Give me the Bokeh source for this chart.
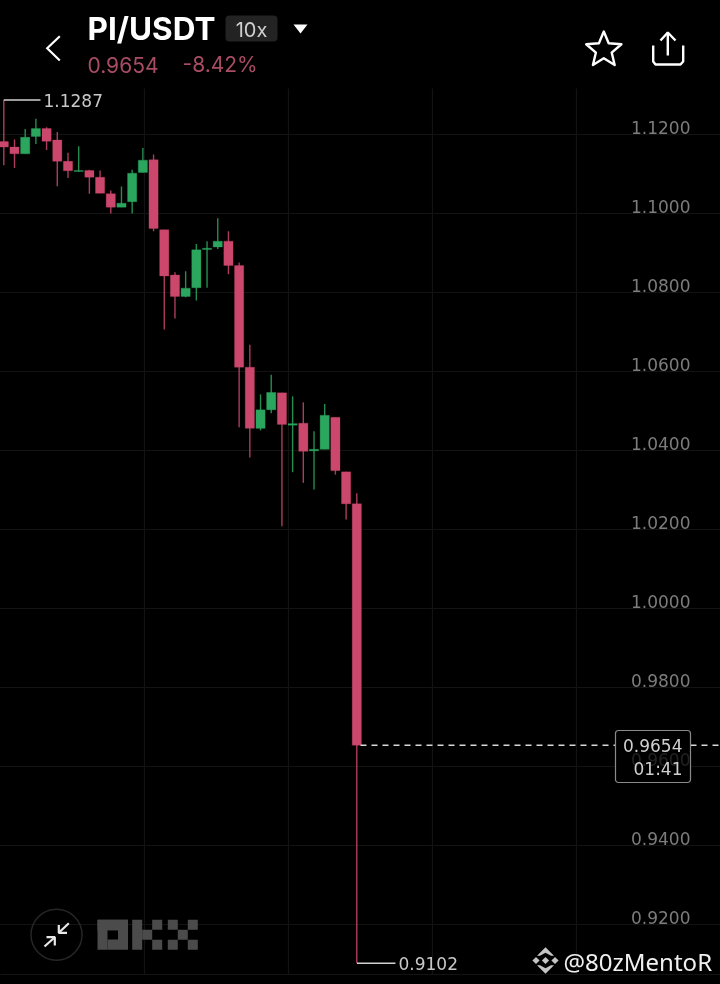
from bokeh.plotting import figure
from bokeh.models import Range1d, Grid, FixedTicker, ColumnDataSource
from bokeh.core.properties import value
from bokeh.embed import file_html
from bokeh.resources import INLINE
import math

# ---- data ----
opens  = [1.1182,1.1168,1.1151,1.1195,1.1215,1.1186,1.1132,1.1106,1.1109,1.1092,1.1050,1.1016,1.1030,1.1104,1.1136,1.0959,1.0844,1.0790,1.0812,1.0909,1.0915,1.0930,1.0868,1.0611,1.0456,1.0503,1.0546,1.0464,1.0469,1.0399,1.0403,1.0484,1.0346,1.0265]
closes = [1.1168,1.1151,1.1193,1.1215,1.1183,1.1132,1.1108,1.1109,1.1092,1.1051,1.1016,1.1026,1.1102,1.1135,1.0962,1.0842,1.0790,1.0811,1.0908,1.0912,1.0930,1.0868,1.0611,1.0456,1.0503,1.0547,1.0466,1.0468,1.0398,1.0403,1.0489,1.0349,1.0265,0.9654]
highs  = [1.1287,1.1187,1.1214,1.1240,1.1218,1.1206,1.1154,1.1170,1.1111,1.1109,1.1058,1.1068,1.1111,1.1166,1.1149,1.0959,1.0851,1.0854,1.0923,1.0930,1.0988,1.0955,1.0876,1.0668,1.0542,1.0592,1.0546,1.0537,1.0522,1.0449,1.0518,1.0484,1.0346,1.0292]
lows   = [1.1122,1.1115,1.1151,1.1176,1.1161,1.1069,1.1090,1.1106,1.1050,1.1051,1.1000,1.1016,1.1000,1.1104,1.0955,1.0706,1.0734,1.0788,1.0780,1.0812,1.0910,1.0846,1.0459,1.0382,1.0451,1.0494,1.0208,1.0345,1.0318,1.0301,1.0403,1.0339,1.0225,0.9102]
y_ticks = [1.12,1.10,1.08,1.06,1.04,1.02,1.00,0.98,0.94,0.92]
hidden_tick = 0.96
pair = "PI/USDT"; leverage = "10x"; last_price = 0.9654; change = "-8.42%"
high_price = 1.1287; low_price = 0.9102; countdown = "01:41"; handle = "@80zMentoR"

RED = "#cb476c"; GREEN = "#2ba65e"; FONT = value("Inter"); NUM = value("DejaVu Sans")
W, H = 722, 986
LAB = "17px"

p = figure(width=W, height=H, x_range=Range1d(-0.402, 67.0935), y_range=Range1d(0.90456, 1.15417),
           toolbar_location=None, output_backend="svg", min_border=0,
           background_fill_color="#000000", border_fill_color="#000000",
           outline_line_color=None, x_axis_type=None, y_axis_type=None,
           styles={"position": "fixed", "left": "-1px", "top": "-1px"})
p.grid.visible = False
p.extra_x_ranges["px"] = Range1d(-1, 721)
p.extra_y_ranges["px"] = Range1d(985, -1)

PX = dict(x_range_name="px", y_range_name="px")
PXX = dict(x_range_name="px")

# grid
p.add_layout(Grid(dimension=1, ticker=FixedTicker(ticks=y_ticks + [hidden_tick]), grid_line_color="#131313", grid_line_width=1.2))
p.segment([144,288,432,576],[88]*4,[144,288,432,576],[974]*4,line_color="#131313",line_width=1.2,**PX)
p.segment([0],[974],[720],[974],line_color="#131313",line_width=1.2,**PX)

# candles
idx = list(range(len(opens)))
cols = [GREEN if c >= o else RED for o, c in zip(opens, closes)]
src = ColumnDataSource(dict(x=idx, top=[max(a,b) for a,b in zip(opens,closes)],
                            bottom=[min(a,b) for a,b in zip(opens,closes)],
                            high=highs, low=lows, color=cols))
p.segment("x","high","x","low",source=src,line_color="color",line_width=1.4,line_alpha=0.85)
p.vbar(x="x",width=0.86,top="top",bottom="bottom",source=src,fill_color="color",line_color="color",line_width=0.3)

# price labels
labs = [f"{t:.4f}" for t in y_ticks]
p.text([690]*len(y_ticks), y_ticks, text=labs, text_font=NUM, text_font_size=LAB,
       text_color="#7c7c7c", text_align="right", text_baseline="middle", y_offset=-7, **PXX)

# high / low markers
p.segment([3.3],[high_price],[40],[high_price],line_color="#d0d0d0",line_width=1.5,**PXX)
p.text([43],[high_price],text=[f"{high_price:.4f}"],text_font=NUM,text_font_size=LAB,text_color="#c8c8c8",text_baseline="middle",**PXX)
p.segment([356.5],[low_price],[395],[low_price],line_color="#d0d0d0",line_width=1.5,**PXX)
p.text([398],[low_price],text=[f"{low_price:.4f}"],text_font=NUM,text_font_size=LAB,text_color="#c8c8c8",text_baseline="middle",**PXX)

# last price
p.segment([360],[last_price],[720],[last_price],line_color="#d8d8d8",line_width=1.5,line_dash="6 5",**PXX)
p.quad(left=[615],right=[690],top=[730],bottom=[782],fill_color="#000000",
       line_color="#8a8a8a",line_width=1.2,border_radius=3,**PX)
p.text([690],[hidden_tick],text=[f"{hidden_tick:.4f}"],text_font=NUM,text_font_size=LAB,text_color="#222222",
       text_align="right",text_baseline="middle",y_offset=-7,**PXX)
p.text([682],[745],text=[f"{last_price:.4f}"],text_font=NUM,text_font_size=LAB,text_color="#d0d0d0",text_align="right",text_baseline="middle",**PX)
p.text([682],[768],text=[countdown],text_font=NUM,text_font_size=LAB,text_color="#d0d0d0",text_align="right",text_baseline="middle",**PX)

# header
p.multi_line([[59.3,46.7,59.3]],[[35.7,47.7,60]],line_color="#ffffff",line_width=2.2,line_join="miter",**PX)
p.text([87],[28],text=[pair],text_font=FONT,text_font_size="31.5px",text_font_style="bold",text_color="#ffffff",text_baseline="middle",**PX)
p.quad(left=[225],right=[277],top=[15],bottom=[41],fill_color="#232323",line_color=None,border_radius=4,**PX)
p.text([251],[29],text=[leverage],text_font=FONT,text_font_size="20px",text_color="#cfcfcf",text_align="center",text_baseline="middle",**PX)
p.patch([293,307,300],[24,24,33],fill_color="#ffffff",line_color=None,**PX)
p.text([87],[64],text=[f"{last_price:.4f}"],text_font=FONT,text_font_size="21px",text_color="#a84c64",text_baseline="middle",**PX)
p.text([182],[64],text=[change],text_font=FONT,text_font_size="21px",text_color="#a84c64",text_baseline="middle",**PX)

# star icon
sx = [603.3 + (18.5 if k % 2 == 0 else 8.3)*math.sin(k*math.pi/5) for k in range(10)]
sy = [49.5 - (18.5 if k % 2 == 0 else 8.3)*math.cos(k*math.pi/5) for k in range(10)]
p.patch(sx, sy, fill_color=None, line_color="#ffffff", line_width=2.4, line_join="round", **PX)
# share icon
p.multi_line([[667.3,667.3],[660,667.3,675],[652.7,652.7,655,680,682.7,682.7]],
             [[32,55],[40,32,40],[45,61,64,64,61,45]],line_color="#ffffff",line_width=2.4,**PX)

# compress button
p.scatter([56],[934.3],size=51,marker="circle",fill_color=None,line_color="#262626",line_width=1.5,**PX)
p.multi_line([[68.3,58.3],[58.3,58.3,66.5],[44,54.3],[46,54.3,54.3]],
             [[922.7,932.3],[924.5,932.3,932.3],[946,936.7],[936.7,936.7,945]],
             line_color="#e8e8e8",line_width=2.2,**PX)

# OKX logo
lg = "#4b4b4b"
L = [97,131.7,141.7,151.7,151.7, 167.3,167.3,177.3,187.3,187.3, 97,117.5,107,107]
R = [107,141.7,151.7,161.7,161.7, 177.3,177.3,187.3,197.3,197.3, 127.5,127.5,117.5,117.5]
T = [919.3,919.3,929.3,919.3,939.3, 919.3,939.3,929.3,919.3,939.3, 919.3,919.3,919.3,939]
B = [949.3,949.3,939.3,929.3,949.3, 929.3,949.3,939.3,929.3,949.3, 929.8,949.3,929.8,949.3]
p.quad(left=L,right=R,top=T,bottom=B,fill_color=lg,line_color=None,**PX)

# watermark
cx, cy = 545, 960
xs, ys = [], []
for dx in (-9.5, 9.5, 0):
    r = 3.6
    xs.append([cx+dx-r,cx+dx,cx+dx+r,cx+dx]); ys.append([cy,cy-r,cy,cy+r])
for s in (-1, 1):
    xs.append([cx,cx+8.5,cx+5.5,cx,cx-5.5,cx-8.5])
    ys.append([cy+s*13.2,cy+s*4.7,cy+s*4.7,cy+s*7.7,cy+s*4.7,cy+s*4.7])
p.patches(xs, ys, fill_color="#c4c4c4", line_color=None, **PX)
p.text([563],[961],text=[handle],text_font=value("Noto Sans"),text_font_size="24px",text_color="#f0f0f0",text_baseline="middle",**PX)

html = file_html(p, INLINE)
open("out.html", "w").write(html)
